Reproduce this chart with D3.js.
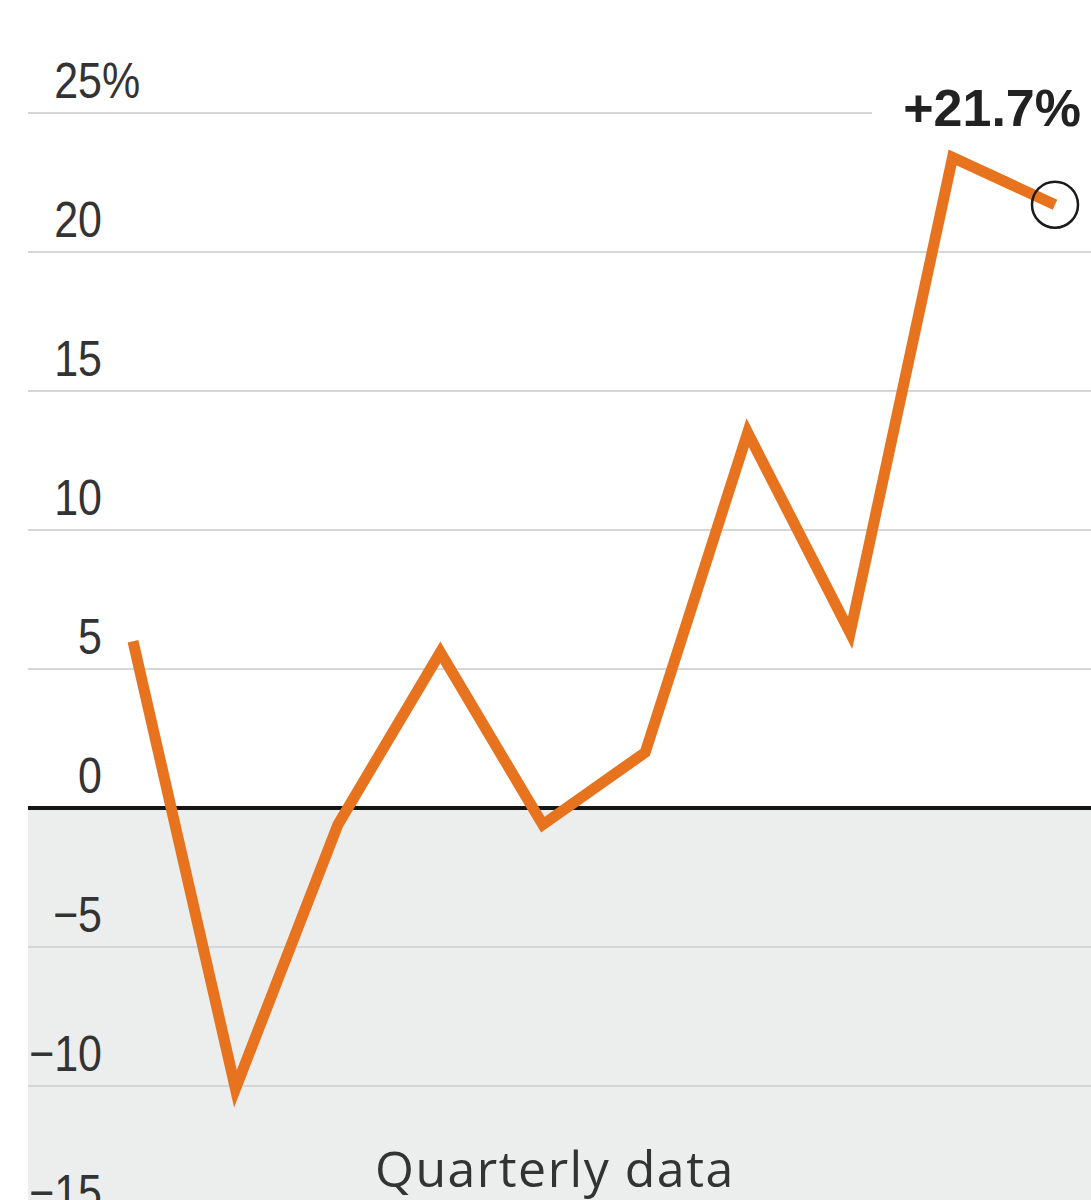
<!DOCTYPE html>
<html>
<head>
<meta charset="utf-8">
<script src="https://cdn.jsdelivr.net/npm/d3@7"></script>
<style>
  html, body { margin: 0; padding: 0; background: #fff; overflow: hidden; }
  svg { display: block; }
</style>
</head>
<body>
<svg id="chart" width="1091" height="1200"></svg>
<script>
// ---- data ----
const quarters = ["Q1", "Q2", "Q3", "Q4", "Q5", "Q6", "Q7", "Q8", "Q9", "Q10"];
const values = [6.0, -10.1, -0.6, 5.6, -0.6, 2.0, 13.5, 6.3, 23.4, 21.7];
const yTicks = [-15, -10, -5, 0, 5, 10, 15, 20, 25];
const lastLabel = "+21.7%";
const noteText = "Quarterly data";

// ---- chart ----
const W = 1091, H = 1200;
const svg = d3.select("#chart");
const tickFont = "'Liberation Sans', Arial, sans-serif";
const squeeze = 0.86;

const x = d3.scalePoint().domain(quarters).range([133, 1055]);
const y = d3.scaleLinear().domain([-15, 25]).range([1225, 113]);

const gridLeft = 28;

// shaded area below zero
svg.append("rect")
  .attr("x", gridLeft).attr("y", y(0))
  .attr("width", W - gridLeft).attr("height", H - y(0))
  .attr("fill", "#eceeee");

// gridlines
svg.append("g").selectAll("line")
  .data(yTicks.filter(d => d !== 0))
  .join("line")
  .attr("x1", gridLeft).attr("x2", W)
  .attr("y1", d => y(d)).attr("y2", d => y(d))
  .attr("stroke", "#d5d7d7").attr("stroke-width", 2);

// tick labels (horizontally condensed)
const fmt = d => (d < 0 ? "\u2212" + Math.abs(d) : String(d));
const labels = svg.append("g");
const tickG = labels.selectAll("g.tick")
  .data(yTicks)
  .join("g")
  .attr("class", "tick")
  .attr("transform", d => `translate(102,${y(d) - 15}) scale(${squeeze},1)`);
tickG.append("text")
  .attr("text-anchor", "end")
  .attr("font-family", tickFont)
  .attr("font-size", 50)
  .attr("fill", "#333")
  .text(fmt);
tickG.filter(d => d === 25).append("text")
  .attr("font-family", tickFont)
  .attr("font-size", 50)
  .attr("fill", "#333")
  .text("%");

// zero line
svg.append("line")
  .attr("x1", gridLeft).attr("x2", W)
  .attr("y1", y(0)).attr("y2", y(0))
  .attr("stroke", "#151515").attr("stroke-width", 4);

// note
svg.append("text")
  .attr("x", 375).attr("y", 1187)
  .attr("font-family", "'Open Sans', 'Liberation Sans', sans-serif")
  .attr("font-size", 50)
  .attr("letter-spacing", 1.5)
  .attr("fill", "#333")
  .text(noteText);

// line
const line = d3.line()
  .x((d, i) => x(quarters[i]))
  .y(d => y(d));
svg.append("path")
  .datum(values)
  .attr("d", line)
  .attr("fill", "none")
  .attr("stroke", "#e8731e")
  .attr("stroke-width", 11)
  .attr("stroke-linejoin", "miter")
  .attr("stroke-linecap", "butt");

// end marker
const lastI = values.length - 1;
svg.append("circle")
  .attr("cx", x(quarters[lastI]))
  .attr("cy", y(values[lastI]))
  .attr("r", 23)
  .attr("fill", "none")
  .attr("stroke", "#1a1a1a")
  .attr("stroke-width", 2.5);

// end label with white backing
svg.append("rect")
  .attr("x", 872).attr("y", 80)
  .attr("width", W - 872).attr("height", 56)
  .attr("fill", "#fff");
svg.append("text")
  .attr("x", 1081).attr("y", 126)
  .attr("text-anchor", "end")
  .attr("font-family", "'Liberation Sans', Arial, sans-serif")
  .attr("font-weight", "bold")
  .attr("font-size", 52)
  .attr("fill", "#222")
  .text(lastLabel);
</script>
</body>
</html>
